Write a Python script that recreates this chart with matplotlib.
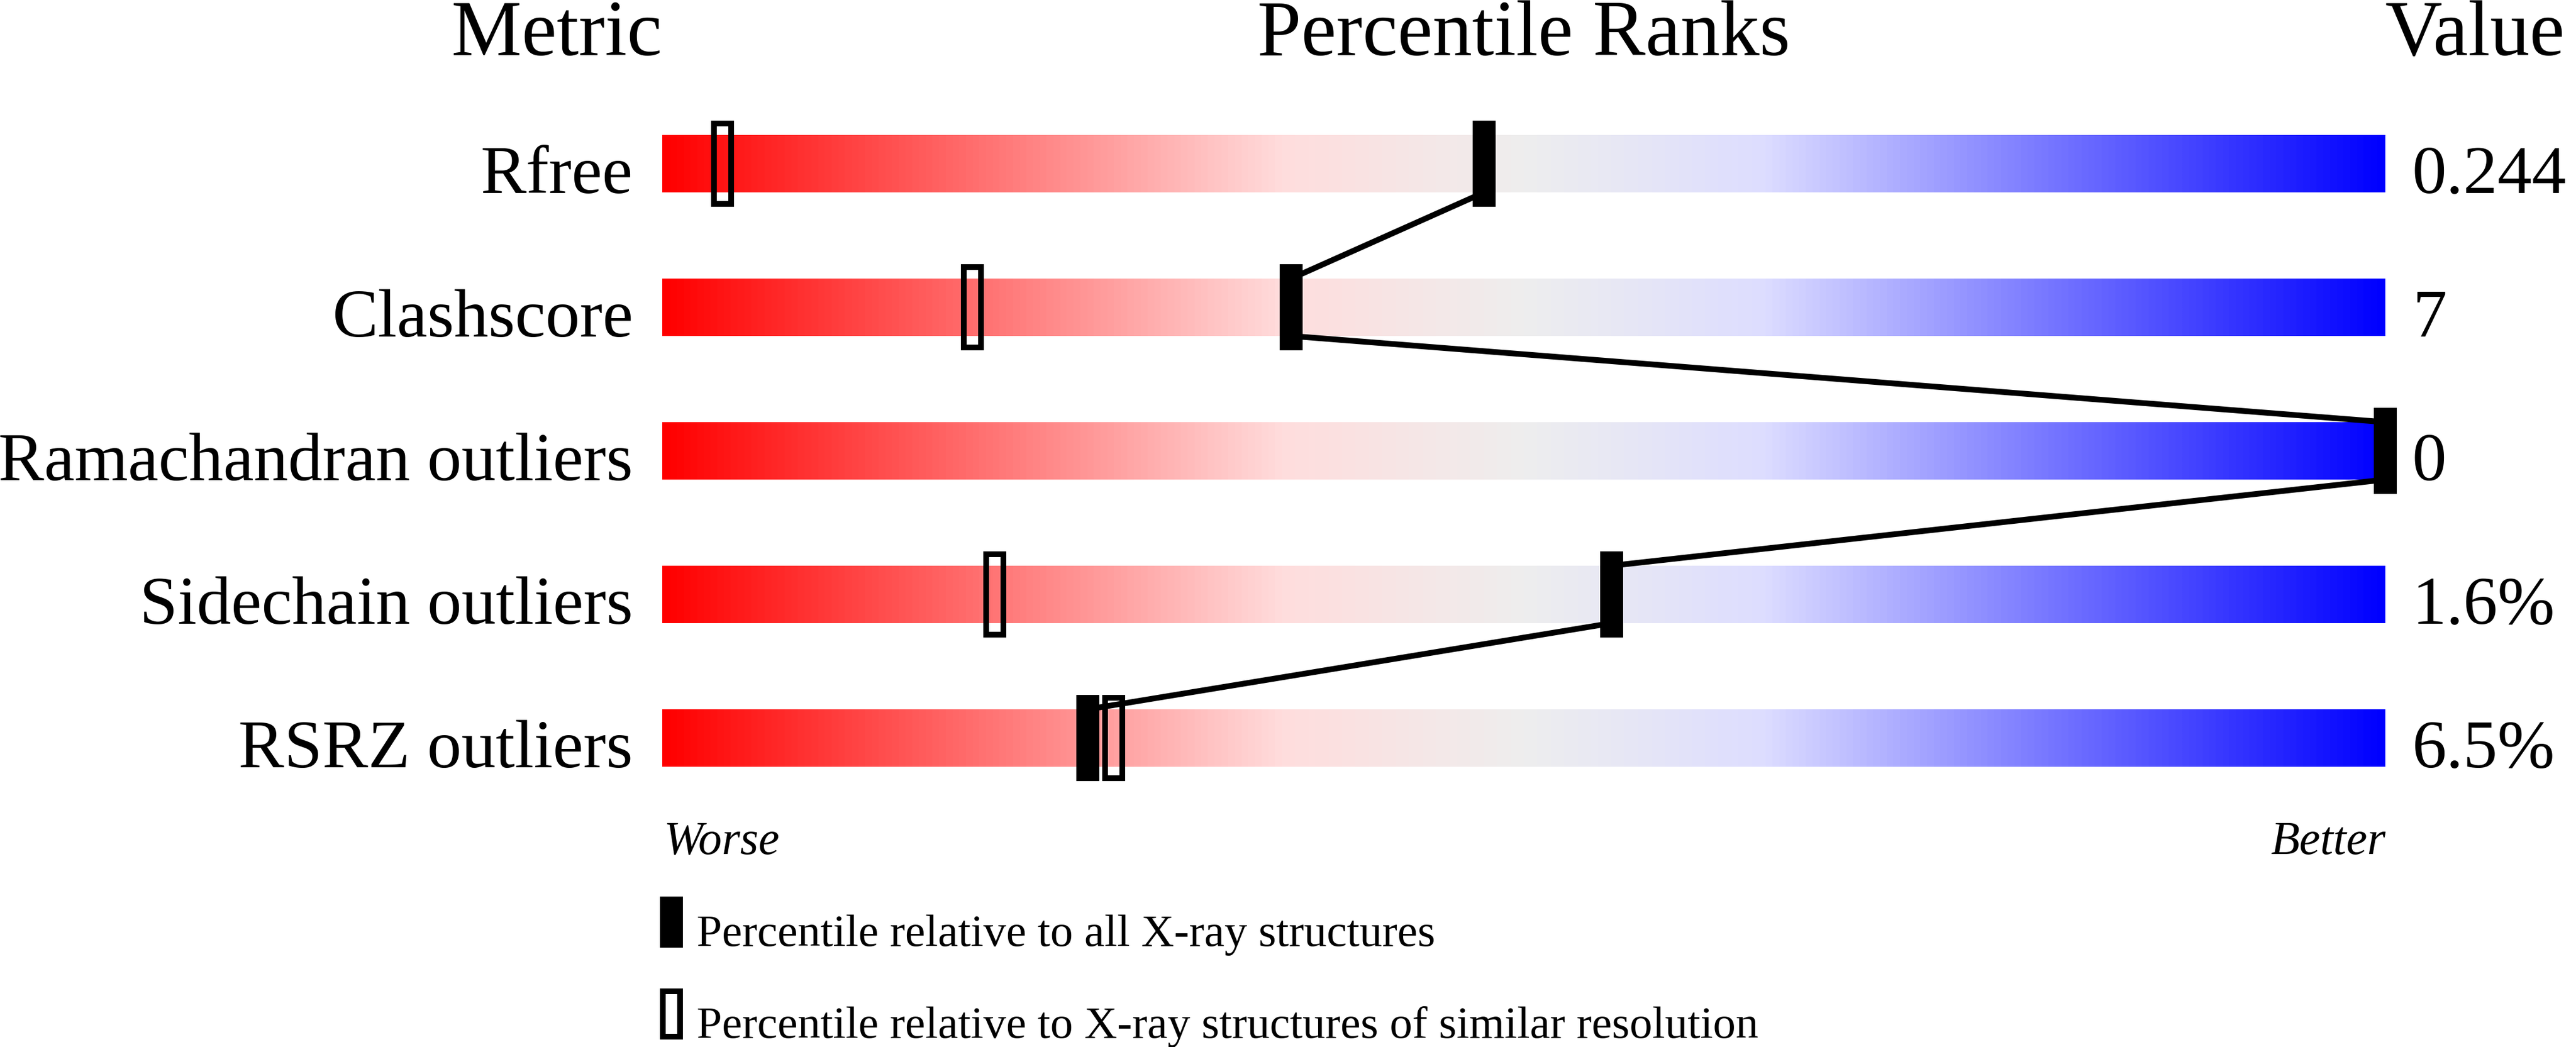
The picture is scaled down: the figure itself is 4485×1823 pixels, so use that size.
import numpy as np
import matplotlib
matplotlib.use("Agg")
import matplotlib.pyplot as plt
from matplotlib.colors import LinearSegmentedColormap
from matplotlib.patches import Rectangle


# percentile slider data
metrics = ["Rfree", "Clashscore", "Ramachandran outliers",
           "Sidechain outliers", "RSRZ outliers"]
values = ["0.244", "7", "0", "1.6%", "6.5%"]
pct_all = [47.7, 36.5, 100.0, 55.1, 24.7]       # filled markers
pct_similar = [3.5, 18.0, 100.0, 19.3, 26.2]    # open markers
headers = ["Metric", "Percentile Ranks", "Value"]
legend_labels = ["Percentile relative to all X-ray structures",
                 "Percentile relative to X-ray structures of similar resolution"]

W, H = 4485, 1824
plt.rcParams['font.family'] = ['Liberation Serif', 'DejaVu Serif']
FONT = ['Liberation Serif', 'DejaVu Serif']

# pixel -> data units (3000 px for 0..100, 250 px per row)
px_x = 100 / 3000
px_y = 1 / 250


def main():
    fig = plt.figure(figsize=(W / 100, H / 100), dpi=100)
    fig.patch.set_facecolor("white")
    ax = fig.add_axes([1153 / W, (H - 1336) / H, 3000 / W, 1100 / H])
    ax.axis("off")

    cmap = LinearSegmentedColormap.from_list(
        "slider",
        [(0.0, "#ff0000"), (0.36, "#ffdddd"), (0.5, "#eeeeee"),
         (0.64, "#ddddff"), (1.0, "#0000ff")])
    grad = np.linspace(0, 1, 600).reshape(1, -1)

    bar_h = 100 * px_y
    mk_w = 40 * px_x
    mk_h = 150 * px_y
    # outline 10 px wide (7.2 pt), path inset by half of it
    half_x = 5 * px_x
    half_y = 5 * px_y

    for i in range(len(metrics)):
        ax.imshow(grad, cmap=cmap, aspect="auto", interpolation="bilinear",
                  extent=(0, 100, i + bar_h / 2, i - bar_h / 2), zorder=1)

    # connecting line between the filled markers
    for i in range(len(metrics) - 1):
        ax.plot([pct_all[i], pct_all[i + 1]],
                [i + bar_h / 2, i + 1 - bar_h / 2],
                color="black", lw=7.2, solid_capstyle="butt", zorder=2,
                clip_on=False)

    for i, p in enumerate(pct_similar):
        ax.add_patch(Rectangle((p - mk_w / 2 + half_x, i - mk_h / 2 + half_y),
                               mk_w - 2 * half_x, mk_h - 2 * half_y,
                               fill=False, edgecolor="black", lw=7.2,
                               joinstyle="miter", zorder=3, clip_on=False))
    for i, p in enumerate(pct_all):
        ax.add_patch(Rectangle((p - mk_w / 2, i - mk_h / 2), mk_w, mk_h,
                               facecolor="black", lw=0, zorder=4, clip_on=False))

    ax.set_xlim(0, 100)
    ax.set_ylim(4 + bar_h / 2, -bar_h / 2)

    # headers
    head_y = -bar_h / 2 - 140 * px_y
    ax.text(0, head_y, headers[0], fontsize=99, family=FONT, ha="right", va="baseline")
    ax.text(50, head_y, headers[1], fontsize=99, family=FONT, ha="center", va="baseline")
    ax.text(100, head_y, headers[2], fontsize=99, family=FONT, ha="left", va="baseline")

    # row labels and values
    for i, (m, v) in enumerate(zip(metrics, values)):
        ax.text(-51 * px_x, i + bar_h / 2, m, fontsize=86, family=FONT,
                ha="right", va="baseline")
        ax.text(100 + 47 * px_x, i + bar_h / 2, v, fontsize=86, family=FONT,
                ha="left", va="baseline")

    # worse / better
    wb_y = 4 + bar_h / 2 + 151 * px_y
    ax.text(0.1, wb_y, "Worse", fontsize=59, family=FONT, style="italic",
            ha="left", va="baseline")
    ax.text(100, wb_y, "Better", fontsize=59, family=FONT, style="italic",
            ha="right", va="baseline")

    # legend
    leg_w = 40 * px_x
    leg_h = 89 * px_y
    leg_top = [4 + bar_h / 2 + 226 * px_y, 4 + bar_h / 2 + 386 * px_y]
    lx = -4 * px_x
    ax.add_patch(Rectangle((lx, leg_top[0]), leg_w, leg_h, facecolor="black",
                           lw=0, clip_on=False))
    ax.add_patch(Rectangle((lx + half_x, leg_top[1] + half_y),
                           leg_w - 2 * half_x, leg_h - 2 * half_y,
                           fill=False, edgecolor="black", lw=7.2,
                           joinstyle="miter", clip_on=False))
    for top, lab in zip(leg_top, legend_labels):
        ax.text(60 * px_x, top + 85 * px_y, lab, fontsize=57, family=FONT,
                ha="left", va="baseline")

    fig.savefig("out.png", dpi=100, facecolor="white")


if __name__ == '__main__':
    main()
